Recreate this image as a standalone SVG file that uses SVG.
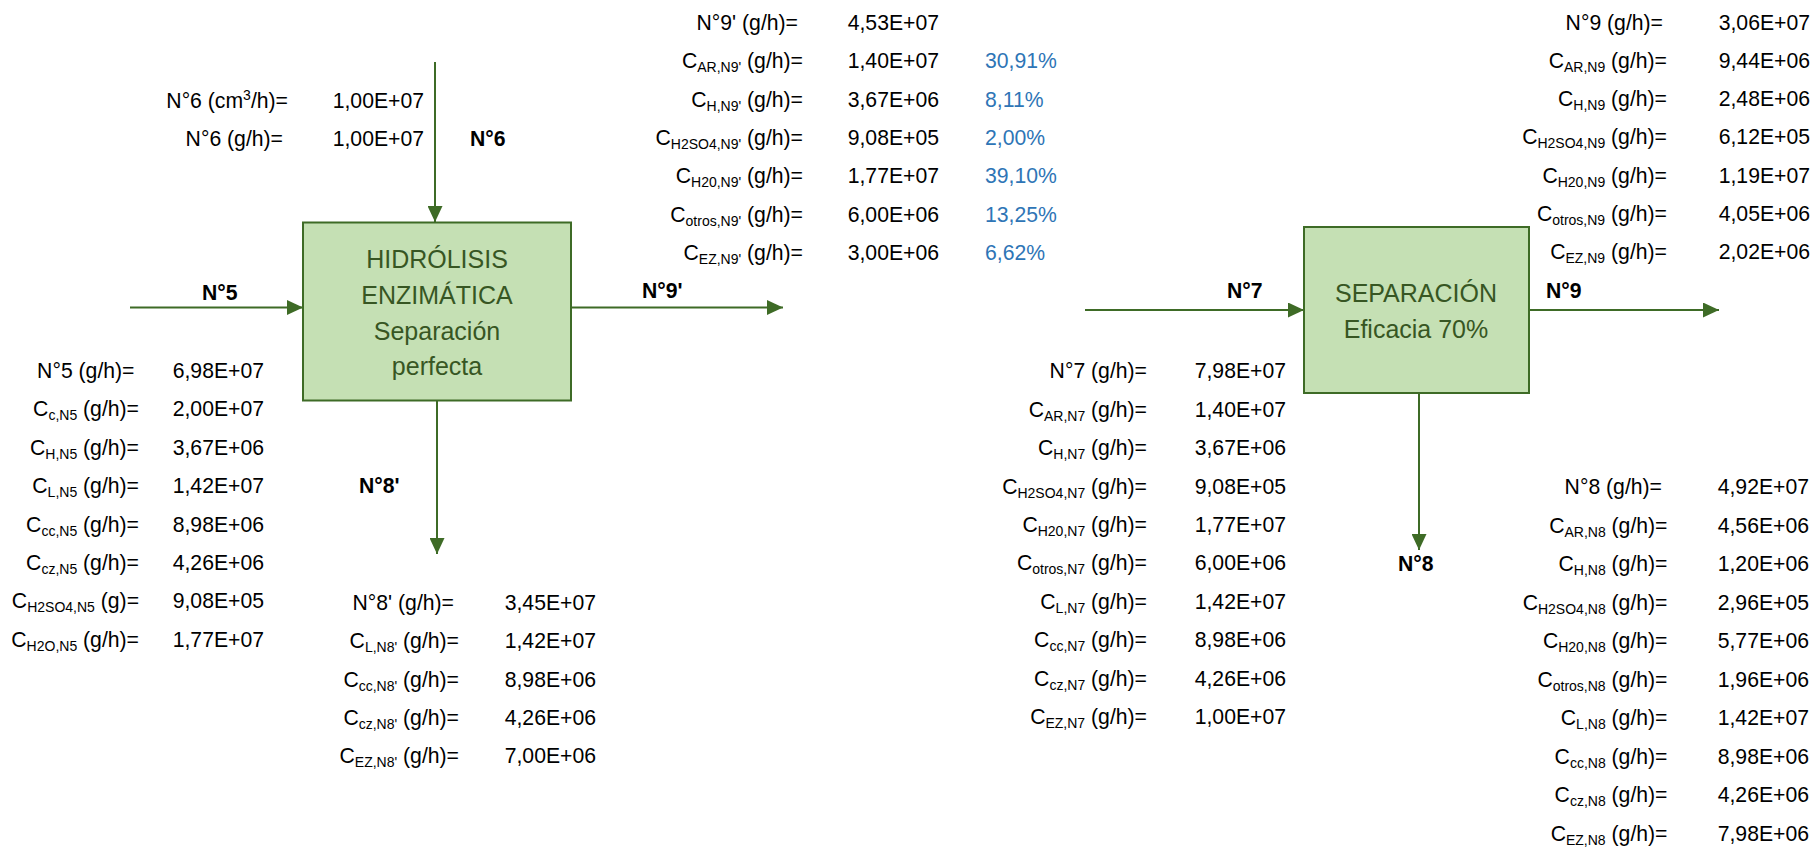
<svg xmlns="http://www.w3.org/2000/svg" width="1814" height="847" viewBox="0 0 1814 847">
<style>
text{font-family:"Liberation Sans",Arial,sans-serif;font-size:21.2px;fill:#000}
.e{text-anchor:end}
.b{font-weight:bold}
.p{fill:#2E75B6}
.s{font-size:14px}
.box{fill:#C5E0B4;stroke:#3E6B26;stroke-width:2}
.bt{font-size:25px;fill:#375623;text-anchor:middle}
.c{stroke:#3E6B26;stroke-width:2;fill:none}
</style>
<defs>
<marker id="ah" markerUnits="userSpaceOnUse" markerWidth="16" markerHeight="15" refX="16" refY="7.5" orient="auto">
<path d="M0,0 L16,7.5 L0,15 z" fill="#3E6B26"/>
</marker>
</defs>
<rect width="1814" height="847" fill="#fff"/>

<g id="connectors">
<line class="c" x1="435" y1="62" x2="435" y2="222" marker-end="url(#ah)"/>
<line class="c" x1="130" y1="307.5" x2="303" y2="307.5" marker-end="url(#ah)"/>
<line class="c" x1="571" y1="307.5" x2="783" y2="307.5" marker-end="url(#ah)"/>
<line class="c" x1="437" y1="401" x2="437" y2="554" marker-end="url(#ah)"/>
<line class="c" x1="1085" y1="310" x2="1304" y2="310" marker-end="url(#ah)"/>
<line class="c" x1="1529" y1="310" x2="1719" y2="310" marker-end="url(#ah)"/>
<line class="c" x1="1419" y1="393" x2="1419" y2="550" marker-end="url(#ah)"/>
<text class="b" x="470" y="146">N°6</text>
<text class="b" x="202" y="300">N°5</text>
<text class="b" x="642" y="298">N°9'</text>
<text class="b" x="359" y="493">N°8'</text>
<text class="b" x="1227" y="298">N°7</text>
<text class="b" x="1546" y="298">N°9</text>
<text class="b" x="1398" y="571">N°8</text>
</g>

<g id="hidrolisis">
<rect class="box" x="303" y="222.5" width="268" height="178"/>
<text class="bt" x="437" y="268">HIDRÓLISIS</text>
<text class="bt" x="437" y="304">ENZIMÁTICA</text>
<text class="bt" x="437" y="340">Separación</text>
<text class="bt" x="437" y="375">perfecta</text>
</g>

<g id="separacion">
<rect class="box" x="1304" y="227" width="225" height="166"/>
<text class="bt" x="1416" y="301.5">SEPARACIÓN</text>
<text class="bt" x="1416" y="338">Eficacia 70%</text>
</g>

<g id="n6-data">
<text class="e" x="288" y="108">N°6 (cm<tspan class="s" dy="-8">3</tspan><tspan dy="8">/h)=</tspan></text>
<text class="e" x="424" y="108">1,00E+07</text>
<text class="e" x="283" y="146">N°6 (g/h)=</text>
<text class="e" x="424" y="146">1,00E+07</text>
</g>

<g id="n5-data">
<text class="e" x="134.5" y="378">N°5 (g/h)=</text>
<text class="e" x="139" y="416.4">C<tspan class="s" dy="4">c,N5</tspan><tspan dy="-4"> (g/h)=</tspan></text>
<text class="e" x="139" y="454.8">C<tspan class="s" dy="4">H,N5</tspan><tspan dy="-4"> (g/h)=</tspan></text>
<text class="e" x="139" y="493.2">C<tspan class="s" dy="4">L,N5</tspan><tspan dy="-4"> (g/h)=</tspan></text>
<text class="e" x="139" y="531.6">C<tspan class="s" dy="4">cc,N5</tspan><tspan dy="-4"> (g/h)=</tspan></text>
<text class="e" x="139" y="570">C<tspan class="s" dy="4">cz,N5</tspan><tspan dy="-4"> (g/h)=</tspan></text>
<text class="e" x="139" y="608.4">C<tspan class="s" dy="4">H2SO4,N5</tspan><tspan dy="-4"> (g)=</tspan></text>
<text class="e" x="139" y="646.8">C<tspan class="s" dy="4">H2O,N5</tspan><tspan dy="-4"> (g/h)=</tspan></text>
<text class="e" x="264" y="378">6,98E+07</text>
<text class="e" x="264" y="416.4">2,00E+07</text>
<text class="e" x="264" y="454.8">3,67E+06</text>
<text class="e" x="264" y="493.2">1,42E+07</text>
<text class="e" x="264" y="531.6">8,98E+06</text>
<text class="e" x="264" y="570">4,26E+06</text>
<text class="e" x="264" y="608.4">9,08E+05</text>
<text class="e" x="264" y="646.8">1,77E+07</text>
</g>

<g id="n9p-data">
<text class="e" x="798" y="30">N°9' (g/h)=</text>
<text class="e" x="803" y="68.3">C<tspan class="s" dy="4">AR,N9'</tspan><tspan dy="-4"> (g/h)=</tspan></text>
<text class="e" x="803" y="106.6">C<tspan class="s" dy="4">H,N9'</tspan><tspan dy="-4"> (g/h)=</tspan></text>
<text class="e" x="803" y="144.9">C<tspan class="s" dy="4">H2SO4,N9'</tspan><tspan dy="-4"> (g/h)=</tspan></text>
<text class="e" x="803" y="183.2">C<tspan class="s" dy="4">H20,N9'</tspan><tspan dy="-4"> (g/h)=</tspan></text>
<text class="e" x="803" y="221.5">C<tspan class="s" dy="4">otros,N9'</tspan><tspan dy="-4"> (g/h)=</tspan></text>
<text class="e" x="803" y="259.8">C<tspan class="s" dy="4">EZ,N9'</tspan><tspan dy="-4"> (g/h)=</tspan></text>
<text class="e" x="939" y="30">4,53E+07</text>
<text class="e" x="939" y="68.3">1,40E+07</text>
<text class="e" x="939" y="106.6">3,67E+06</text>
<text class="e" x="939" y="144.9">9,08E+05</text>
<text class="e" x="939" y="183.2">1,77E+07</text>
<text class="e" x="939" y="221.5">6,00E+06</text>
<text class="e" x="939" y="259.8">3,00E+06</text>
<text class="p" x="985" y="68.3">30,91%</text>
<text class="p" x="985" y="106.6">8,11%</text>
<text class="p" x="985" y="144.9">2,00%</text>
<text class="p" x="985" y="183.2">39,10%</text>
<text class="p" x="985" y="221.5">13,25%</text>
<text class="p" x="985" y="259.8">6,62%</text>
</g>

<g id="n8p-data">
<text class="e" x="454" y="610">N°8' (g/h)=</text>
<text class="e" x="459" y="648.3">C<tspan class="s" dy="4">L,N8'</tspan><tspan dy="-4"> (g/h)=</tspan></text>
<text class="e" x="459" y="686.6">C<tspan class="s" dy="4">cc,N8'</tspan><tspan dy="-4"> (g/h)=</tspan></text>
<text class="e" x="459" y="724.9">C<tspan class="s" dy="4">cz,N8'</tspan><tspan dy="-4"> (g/h)=</tspan></text>
<text class="e" x="459" y="763.2">C<tspan class="s" dy="4">EZ,N8'</tspan><tspan dy="-4"> (g/h)=</tspan></text>
<text class="e" x="596" y="610">3,45E+07</text>
<text class="e" x="596" y="648.3">1,42E+07</text>
<text class="e" x="596" y="686.6">8,98E+06</text>
<text class="e" x="596" y="724.9">4,26E+06</text>
<text class="e" x="596" y="763.2">7,00E+06</text>
</g>

<g id="n7-data">
<text class="e" x="1147" y="378.3">N°7 (g/h)=</text>
<text class="e" x="1147" y="416.7">C<tspan class="s" dy="4">AR,N7</tspan><tspan dy="-4"> (g/h)=</tspan></text>
<text class="e" x="1147" y="455.1">C<tspan class="s" dy="4">H,N7</tspan><tspan dy="-4"> (g/h)=</tspan></text>
<text class="e" x="1147" y="493.5">C<tspan class="s" dy="4">H2SO4,N7</tspan><tspan dy="-4"> (g/h)=</tspan></text>
<text class="e" x="1147" y="531.9">C<tspan class="s" dy="4">H20,N7</tspan><tspan dy="-4"> (g/h)=</tspan></text>
<text class="e" x="1147" y="570.3">C<tspan class="s" dy="4">otros,N7</tspan><tspan dy="-4"> (g/h)=</tspan></text>
<text class="e" x="1147" y="608.7">C<tspan class="s" dy="4">L,N7</tspan><tspan dy="-4"> (g/h)=</tspan></text>
<text class="e" x="1147" y="647.1">C<tspan class="s" dy="4">cc,N7</tspan><tspan dy="-4"> (g/h)=</tspan></text>
<text class="e" x="1147" y="685.5">C<tspan class="s" dy="4">cz,N7</tspan><tspan dy="-4"> (g/h)=</tspan></text>
<text class="e" x="1147" y="723.9">C<tspan class="s" dy="4">EZ,N7</tspan><tspan dy="-4"> (g/h)=</tspan></text>
<text class="e" x="1286" y="378.3">7,98E+07</text>
<text class="e" x="1286" y="416.7">1,40E+07</text>
<text class="e" x="1286" y="455.1">3,67E+06</text>
<text class="e" x="1286" y="493.5">9,08E+05</text>
<text class="e" x="1286" y="531.9">1,77E+07</text>
<text class="e" x="1286" y="570.3">6,00E+06</text>
<text class="e" x="1286" y="608.7">1,42E+07</text>
<text class="e" x="1286" y="647.1">8,98E+06</text>
<text class="e" x="1286" y="685.5">4,26E+06</text>
<text class="e" x="1286" y="723.9">1,00E+07</text>
</g>

<g id="n9-data">
<text class="e" x="1663" y="29.5">N°9 (g/h)=</text>
<text class="e" x="1667" y="67.8">C<tspan class="s" dy="4">AR,N9</tspan><tspan dy="-4"> (g/h)=</tspan></text>
<text class="e" x="1667" y="106.1">C<tspan class="s" dy="4">H,N9</tspan><tspan dy="-4"> (g/h)=</tspan></text>
<text class="e" x="1667" y="144.4">C<tspan class="s" dy="4">H2SO4,N9</tspan><tspan dy="-4"> (g/h)=</tspan></text>
<text class="e" x="1667" y="182.7">C<tspan class="s" dy="4">H20,N9</tspan><tspan dy="-4"> (g/h)=</tspan></text>
<text class="e" x="1667" y="221">C<tspan class="s" dy="4">otros,N9</tspan><tspan dy="-4"> (g/h)=</tspan></text>
<text class="e" x="1667" y="259.3">C<tspan class="s" dy="4">EZ,N9</tspan><tspan dy="-4"> (g/h)=</tspan></text>
<text class="e" x="1810" y="29.5">3,06E+07</text>
<text class="e" x="1810" y="67.8">9,44E+06</text>
<text class="e" x="1810" y="106.1">2,48E+06</text>
<text class="e" x="1810" y="144.4">6,12E+05</text>
<text class="e" x="1810" y="182.7">1,19E+07</text>
<text class="e" x="1810" y="221">4,05E+06</text>
<text class="e" x="1810" y="259.3">2,02E+06</text>
</g>

<g id="n8-data">
<text class="e" x="1662" y="494">N°8 (g/h)=</text>
<text class="e" x="1667.5" y="532.5">C<tspan class="s" dy="4">AR,N8</tspan><tspan dy="-4"> (g/h)=</tspan></text>
<text class="e" x="1667.5" y="571">C<tspan class="s" dy="4">H,N8</tspan><tspan dy="-4"> (g/h)=</tspan></text>
<text class="e" x="1667.5" y="609.5">C<tspan class="s" dy="4">H2SO4,N8</tspan><tspan dy="-4"> (g/h)=</tspan></text>
<text class="e" x="1667.5" y="648">C<tspan class="s" dy="4">H20,N8</tspan><tspan dy="-4"> (g/h)=</tspan></text>
<text class="e" x="1667.5" y="686.5">C<tspan class="s" dy="4">otros,N8</tspan><tspan dy="-4"> (g/h)=</tspan></text>
<text class="e" x="1667.5" y="725">C<tspan class="s" dy="4">L,N8</tspan><tspan dy="-4"> (g/h)=</tspan></text>
<text class="e" x="1667.5" y="763.5">C<tspan class="s" dy="4">cc,N8</tspan><tspan dy="-4"> (g/h)=</tspan></text>
<text class="e" x="1667.5" y="802">C<tspan class="s" dy="4">cz,N8</tspan><tspan dy="-4"> (g/h)=</tspan></text>
<text class="e" x="1667.5" y="840.5">C<tspan class="s" dy="4">EZ,N8</tspan><tspan dy="-4"> (g/h)=</tspan></text>
<text class="e" x="1809" y="494">4,92E+07</text>
<text class="e" x="1809" y="532.5">4,56E+06</text>
<text class="e" x="1809" y="571">1,20E+06</text>
<text class="e" x="1809" y="609.5">2,96E+05</text>
<text class="e" x="1809" y="648">5,77E+06</text>
<text class="e" x="1809" y="686.5">1,96E+06</text>
<text class="e" x="1809" y="725">1,42E+07</text>
<text class="e" x="1809" y="763.5">8,98E+06</text>
<text class="e" x="1809" y="802">4,26E+06</text>
<text class="e" x="1809" y="840.5">7,98E+06</text>
</g>
</svg>
